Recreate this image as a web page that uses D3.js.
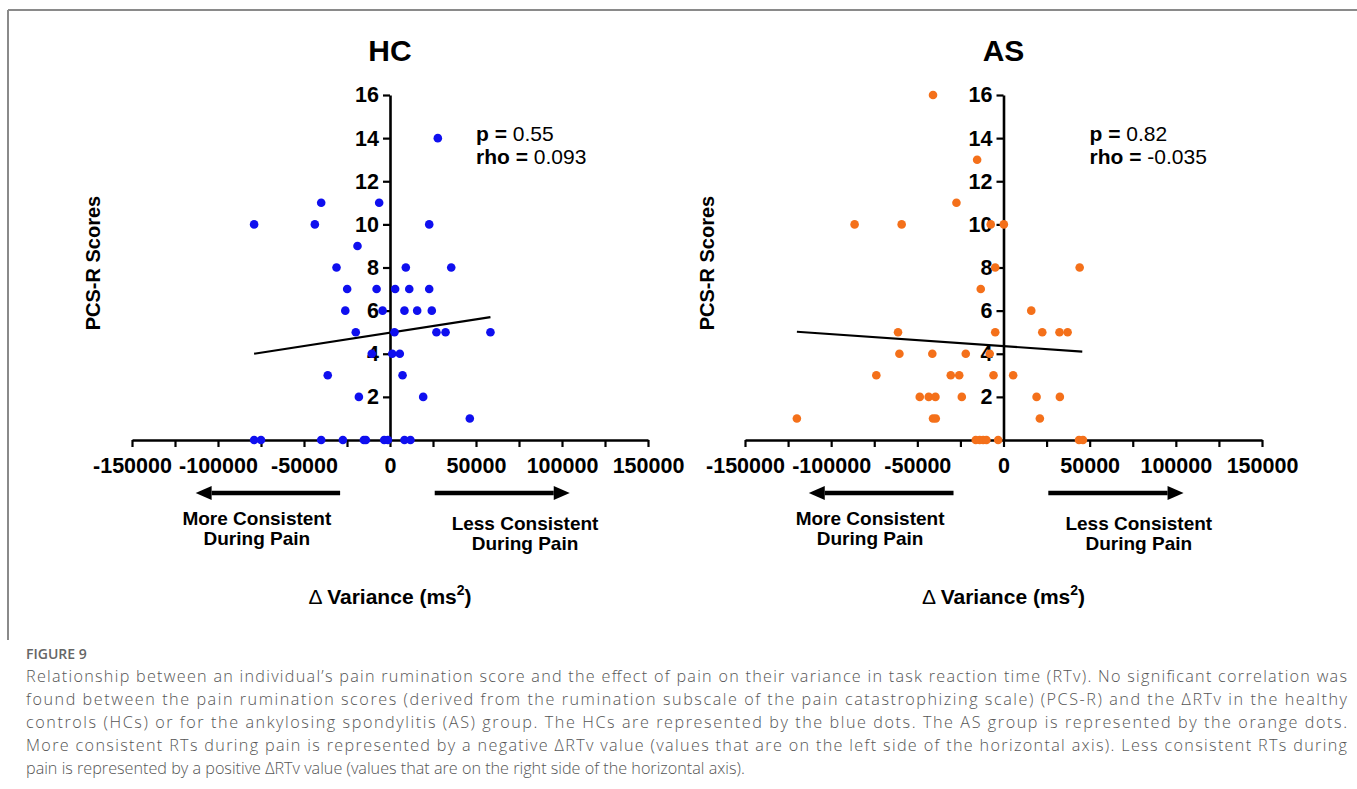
<!DOCTYPE html>
<html><head><meta charset="utf-8">
<script src="https://cdn.jsdelivr.net/npm/d3@7"></script>
<style>
body{margin:0;background:#fff}
svg{display:block}
</style>
</head><body>
<svg id="chart" width="1357" height="789"></svg>
<script>
// ---------- data ----------
const xTickValues = [-150000,-125000,-100000,-75000,-50000,-25000,0,25000,50000,75000,100000,125000,150000];
const xLabelValues = [-150000,-100000,-50000,0,50000,100000,150000];
const yTickValues = [2,4,6,8,10,12,14,16];

const hcX = [-79000,-75000,-40000,-27400,-15200,-14000,-3400,-1200,8400,11900,
             46400,
             -18100,19300,
             -36200,7300,
             -10600,1300,5700,
             -19900,2600,27000,32300,58400,
             -26000,-4300,8400,15800,24300,
             -24900,-7800,3000,11200,22800,
             -31100,9200,35600,
             -18900,
             -79000,-43700,22800,
             -40000,-6300,
             27800];
const hcY = [0,0,0,0,0,0,0,0,0,0,
             1,
             2,2,
             3,3,
             4,4,4,
             5,5,5,5,5,
             6,6,6,6,6,
             7,7,7,7,7,
             8,8,8,
             9,
             10,10,10,
             11,11,
             14];

const asX = [-16100,-13800,-11800,-9900,-3100,43800,46100,
             -119900,-40900,-39300,21100,
             -48600,-43400,-39500,-24200,19200,32700,
             -73800,-30600,-25700,-5800,5600,
             -60400,-41300,-21900,-8000,
             -61200,-4800,22500,32500,37200,
             16100,
             -13200,
             -4800,44200,
             -86400,-59100,-7400,200,
             -27300,
             -15300,
             -40900];
const asY = [0,0,0,0,0,0,0,
             1,1,1,1,
             2,2,2,2,2,2,
             3,3,3,3,3,
             4,4,4,4,
             5,5,5,5,5,
             6,
             7,
             8,8,
             10,10,10,10,
             11,
             13,
             16];

const hcFitX = [-79000, 58400];
const hcFitY = [4.0, 5.7];
const asFitX = [-119900, 45700];
const asFitY = [5.02, 4.1];

const panelTitles = ["HC", "AS"];
const pValues = ["0.55", "0.82"];
const rhoValues = ["0.093", "-0.035"];

const captionTitle = "FIGURE 9";
const captionLines = [
 "Relationship between an individual\u2019s pain rumination score and the effect of pain on their variance in task reaction time (RTv). No significant correlation was",
 "found between the pain rumination scores (derived from the rumination subscale of the pain catastrophizing scale) (PCS-R) and the \u0394RTv in the healthy",
 "controls (HCs) or for the ankylosing spondylitis (AS) group. The HCs are represented by the blue dots. The AS group is represented by the orange dots.",
 "More consistent RTs during pain is represented by a negative \u0394RTv value (values that are on the left side of the horizontal axis). Less consistent RTs during",
 "pain is represented by a positive \u0394RTv value (values that are on the right side of the horizontal axis)."
];

// ---------- drawing ----------
const svg = d3.select("#chart");
const FONT = "'Liberation Sans', Arial, Helvetica, sans-serif";

// frame
svg.append("line").attr("x1",8).attr("x2",1357).attr("y1",10).attr("y2",10)
  .attr("stroke","#8a8a8a").attr("stroke-width",2);
svg.append("line").attr("x1",8).attr("x2",8).attr("y1",10).attr("y2",640)
  .attr("stroke","#8a8a8a").attr("stroke-width",2);

function drawPanel(cfg) {
  const x = d3.scaleLinear().domain([-150000,150000]).range(cfg.xRange);
  const y = d3.scaleLinear().domain([0,16]).range([440,95]);
  const g = svg.append("g");

  // title
  g.append("text").attr("x", x(0)).attr("y", 61).attr("text-anchor","middle")
    .attr("font-family",FONT).attr("font-weight","bold").attr("font-size",30)
    .text(cfg.title);

  // x axis
  const xAxis = d3.axisBottom(x).tickValues(xTickValues).tickSize(7).tickSizeOuter(0)
    .tickPadding(11).tickFormat(d => xLabelValues.includes(d) ? String(d) : "");
  const gx = g.append("g").attr("transform",`translate(0,${y(0)})`).call(xAxis);

  // y axis
  const yAxis = d3.axisLeft(y).tickValues(yTickValues).tickSize(7).tickSizeOuter(0)
    .tickPadding(4).tickFormat(d => String(d));
  const gy = g.append("g").attr("transform",`translate(${x(0)},0)`).call(yAxis);

  [gx, gy].forEach(a => {
    a.select(".domain").attr("stroke","#000").attr("stroke-width",2.6);
    a.selectAll(".tick line").attr("stroke","#000").attr("stroke-width",2.2);
    a.selectAll(".tick text").attr("font-family",FONT).attr("font-weight","bold")
      .attr("font-size",21.5).attr("fill","#000");
  });

  // y label
  g.append("text").attr("transform",`translate(${x(0)-297},263) rotate(-90)`)
    .attr("text-anchor","middle").attr("dy","0.35em")
    .attr("font-family",FONT).attr("font-weight","bold").attr("font-size",20)
    .text("PCS-R Scores");

  // regression line
  g.append("line")
    .attr("x1", x(cfg.fitX[0])).attr("y1", y(cfg.fitY[0]))
    .attr("x2", x(cfg.fitX[1])).attr("y2", y(cfg.fitY[1]))
    .attr("stroke","#000").attr("stroke-width",2.2);

  // dots
  g.append("g").selectAll("circle").data(cfg.xs.map((v,i)=>[v,cfg.ys[i]])).join("circle")
    .attr("cx", d => x(d[0])).attr("cy", d => y(d[1])).attr("r",4.3)
    .attr("fill", cfg.color);

  // stats
  const st = g.append("text").attr("x", x(0)+86).attr("y",141)
    .attr("font-family",FONT).attr("font-size",21);
  st.append("tspan").attr("font-weight","bold").text("p = ");
  st.append("tspan").text(cfg.p);
  const st2 = g.append("text").attr("x", x(0)+86).attr("y",164)
    .attr("font-family",FONT).attr("font-size",21);
  st2.append("tspan").attr("font-weight","bold").text("rho = ");
  st2.append("tspan").text(cfg.rho);

  // arrows
  const ay = 493;
  function arrow(from, to) {
    const x1 = x(from), x2 = x(to);
    const dir = Math.sign(x2 - x1);
    const head = 16, half = 7;
    g.append("line").attr("x1",x1).attr("x2",x2 - dir*head).attr("y1",ay).attr("y2",ay)
      .attr("stroke","#000").attr("stroke-width",4.5);
    g.append("path").attr("d",`M${x2},${ay} L${x2-dir*head},${ay-half} L${x2-dir*head},${ay+half} Z`)
      .attr("fill","#000");
  }
  arrow(-29000, -113000);
  arrow(26000, 104500);

  const lab = (cx, yy, t) => g.append("text").attr("x", x(cx)).attr("y", yy)
    .attr("text-anchor","middle").attr("font-family",FONT).attr("font-weight","bold")
    .attr("font-size",19).text(t);
  lab(-77400, 525, "More Consistent");
  lab(-77400, 545, "During Pain");
  lab(78500, 530, "Less Consistent");
  lab(78500, 550, "During Pain");

  // x axis title
  const xt = g.append("text").attr("x", x(0)).attr("y", 604).attr("text-anchor","middle")
    .attr("font-family",FONT).attr("font-weight","bold").attr("font-size",21);
  xt.append("tspan").attr("font-weight","normal").text("\u0394 ");
  xt.append("tspan").text("Variance (ms");
  xt.append("tspan").attr("font-size",14).attr("dy",-9).text("2");
  xt.append("tspan").attr("dy",9).text(")");
}

drawPanel({title: panelTitles[0], xRange: [132,648], xs: hcX, ys: hcY, color: "#0f0fef",
  fitX: hcFitX, fitY: hcFitY, p: pValues[0], rho: rhoValues[0]});
drawPanel({title: panelTitles[1], xRange: [745,1262], xs: asX, ys: asY, color: "#f4701a",
  fitX: asFitX, fitY: asFitY, p: pValues[1], rho: rhoValues[1]});

// caption
const CAP = "'Open Sans', 'Noto Sans', Lato, sans-serif";
svg.append("text").attr("x",26).attr("y",659)
  .attr("font-family",CAP).attr("font-weight",600).attr("font-size",14).attr("fill","#666")
  .text(captionTitle);
captionLines.forEach((t,i) => {
  const tx = svg.append("text").attr("x",26).attr("y",682 + i*23)
    .attr("font-family",CAP).attr("font-weight",300).attr("font-size",16.2).attr("fill","#555")
    .text(t);
  if (i < captionLines.length - 1) {
    tx.attr("textLength", 1321).attr("lengthAdjust","spacing");
  }
});
</script>
</body></html>
